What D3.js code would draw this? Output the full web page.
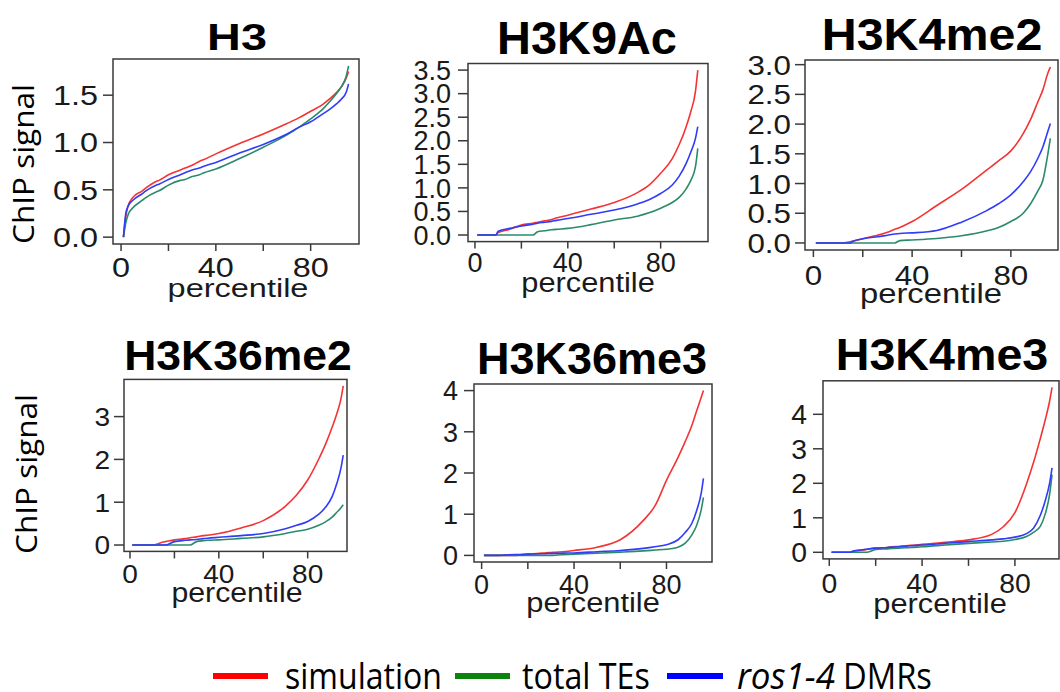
<!DOCTYPE html>
<html lang="en">
<head>
<meta charset="UTF-8" />
<title>ChIP signal by percentile</title>
<script src="https://d3js.org/d3.v7.min.js"></script>
<style>
  body { margin: 0; background: #fff; }
  svg { display: block; }
</style>
</head>
<body>
<svg id="chart" width="1060" height="692"></svg>
<script>
// percentile positions shared by every curve
const percentile = [1, 2, 3, 5, 9, 10, 15, 16, 20, 25, 27, 30, 33, 35, 40, 50, 60, 70, 75, 80, 85, 88, 91, 93, 95, 96];

const marks = ["H3", "H3K9Ac", "H3K4me2", "H3K36me2", "H3K36me3", "H3K4me3"];
const seriesNames = ["simulation", "total TEs", "ros1-4 DMRs"];

// H3
const h3Sim   = [0, 0.22, 0.33, 0.42, 0.49, 0.51, 0.59, 0.60, 0.66, 0.71, 0.73, 0.76, 0.80, 0.82, 0.88, 0.99, 1.09, 1.20, 1.26, 1.33, 1.40, 1.46, 1.53, 1.59, 1.68, 1.75];
const h3Total = [0, 0.15, 0.24, 0.31, 0.39, 0.41, 0.48, 0.49, 0.55, 0.60, 0.61, 0.64, 0.66, 0.68, 0.72, 0.83, 0.95, 1.08, 1.16, 1.25, 1.35, 1.43, 1.52, 1.59, 1.70, 1.81];
const h3Dmr   = [0, 0.25, 0.33, 0.39, 0.46, 0.48, 0.55, 0.56, 0.61, 0.66, 0.68, 0.71, 0.73, 0.75, 0.79, 0.89, 0.98, 1.09, 1.16, 1.22, 1.30, 1.35, 1.41, 1.46, 1.53, 1.62];

// H3K9Ac
const k9acSim   = [0, 0, 0, 0, 0, 0.05, 0.12, 0.14, 0.21, 0.25, 0.27, 0.30, 0.33, 0.36, 0.42, 0.55, 0.69, 0.90, 1.06, 1.31, 1.62, 1.92, 2.30, 2.62, 3.05, 3.50];
const k9acTotal = [0, 0, 0, 0, 0, 0, 0, 0, 0, 0, 0.07, 0.09, 0.11, 0.12, 0.14, 0.22, 0.32, 0.40, 0.47, 0.57, 0.69, 0.80, 0.98, 1.16, 1.45, 1.84];
const k9acDmr   = [0, 0, 0, 0, 0, 0.08, 0.14, 0.15, 0.19, 0.23, 0.25, 0.27, 0.29, 0.31, 0.35, 0.44, 0.53, 0.66, 0.75, 0.88, 1.06, 1.25, 1.52, 1.76, 2.05, 2.30];

// H3K4me2
const k4me2Sim   = [0, 0, 0, 0, 0, 0, 0.02, 0.03, 0.07, 0.12, 0.14, 0.18, 0.23, 0.26, 0.36, 0.63, 0.90, 1.22, 1.38, 1.55, 1.84, 2.08, 2.38, 2.58, 2.86, 2.96];
const k4me2Total = [0, 0, 0, 0, 0, 0, 0, 0, 0, 0, 0, 0, 0, 0.04, 0.05, 0.075, 0.12, 0.20, 0.26, 0.36, 0.50, 0.66, 0.88, 1.06, 1.50, 1.76];
const k4me2Dmr   = [0, 0, 0, 0, 0, 0, 0, 0.03, 0.07, 0.10, 0.11, 0.13, 0.15, 0.16, 0.17, 0.21, 0.35, 0.54, 0.66, 0.81, 1.03, 1.20, 1.43, 1.62, 1.88, 2.01];

// H3K36me2
const k36me2Sim   = [0, 0, 0, 0, 0, 0, 0.07, 0.08, 0.12, 0.15, 0.17, 0.19, 0.22, 0.23, 0.27, 0.40, 0.57, 0.91, 1.17, 1.52, 2.01, 2.35, 2.75, 3.05, 3.42, 3.72];
const k36me2Total = [0, 0, 0, 0, 0, 0, 0, 0, 0, 0, 0, 0.08, 0.10, 0.11, 0.12, 0.155, 0.19, 0.27, 0.32, 0.37, 0.46, 0.54, 0.65, 0.76, 0.87, 0.94];
const k36me2Dmr   = [0, 0, 0, 0, 0, 0, 0, 0, 0.08, 0.11, 0.12, 0.13, 0.15, 0.16, 0.18, 0.22, 0.27, 0.38, 0.46, 0.55, 0.72, 0.88, 1.13, 1.42, 1.80, 2.10];

// H3K36me3
const k36me3Sim   = [0, 0, 0, 0, 0, 0, 0, 0.01, 0.03, 0.05, 0.06, 0.07, 0.08, 0.09, 0.12, 0.20, 0.38, 0.85, 1.20, 1.82, 2.38, 2.75, 3.16, 3.50, 3.83, 4.00];
const k36me3Total = [0, 0, 0, 0, 0, 0, 0, 0, 0, 0, 0, 0, 0.01, 0.015, 0.03, 0.055, 0.08, 0.11, 0.13, 0.15, 0.20, 0.29, 0.50, 0.72, 1.10, 1.41];
const k36me3Dmr   = [0, 0, 0, 0, 0.005, 0.01, 0.02, 0.02, 0.03, 0.04, 0.04, 0.05, 0.05, 0.055, 0.06, 0.09, 0.12, 0.17, 0.21, 0.26, 0.38, 0.55, 0.78, 1.08, 1.50, 1.87];

// H3K4me3
const k4me3Sim   = [0, 0, 0, 0, 0, 0.02, 0.07, 0.08, 0.12, 0.14, 0.16, 0.17, 0.19, 0.20, 0.23, 0.29, 0.36, 0.52, 0.74, 1.15, 1.98, 2.60, 3.31, 3.82, 4.40, 4.78];
const k4me3Total = [0, 0, 0, 0, 0, 0, 0, 0, 0.08, 0.10, 0.11, 0.12, 0.13, 0.14, 0.16, 0.21, 0.26, 0.30, 0.32, 0.37, 0.46, 0.58, 0.76, 1.10, 1.70, 2.25];
const k4me3Dmr   = [0, 0, 0, 0, 0, 0.03, 0.08, 0.09, 0.12, 0.14, 0.15, 0.16, 0.18, 0.19, 0.21, 0.26, 0.31, 0.36, 0.39, 0.44, 0.54, 0.70, 1.08, 1.48, 2.02, 2.45];

// axis ticks
const xTicks = [0, 20, 40, 60, 80];
const xTickLabels = [0, 40, 80];
const yTicksH3 = [0, 0.5, 1, 1.5];
const yTicksK9ac = [0, 0.5, 1, 1.5, 2, 2.5, 3, 3.5];
const yTicksK4me2 = [0, 0.5, 1, 1.5, 2, 2.5, 3];
const yTicksK36me2 = [0, 1, 2, 3];
const yTicksK36me3 = [0, 1, 2, 3, 4];
const yTicksK4me3 = [0, 1, 2, 3, 4];

const panels = [
  { series: [h3Sim, h3Total, h3Dmr], yTicks: yTicksH3, fmt: ".1f" },
  { series: [k9acSim, k9acTotal, k9acDmr], yTicks: yTicksK9ac, fmt: ".1f" },
  { series: [k4me2Sim, k4me2Total, k4me2Dmr], yTicks: yTicksK4me2, fmt: ".1f" },
  { series: [k36me2Sim, k36me2Total, k36me2Dmr], yTicks: yTicksK36me2, fmt: "d" },
  { series: [k36me3Sim, k36me3Total, k36me3Dmr], yTicks: yTicksK36me3, fmt: "d" },
  { series: [k4me3Sim, k4me3Total, k4me3Dmr], yTicks: yTicksK4me3, fmt: "d" }
];

// layout of each panel (box = left, top, right, bottom)
const layout = [
  { box: [113, 59, 359, 244], xlim: [-3.4, 100.4], tf: 27, tsx: 1.2, ygap: 15, xlb: 33,
    title: [237, 50, 36, 1.3], xlab: [238, 297, 26, 1.25] },
  { box: [468, 63.5, 708, 241.6], xlim: [-3.0, 100.4], tf: 27, tsx: 1.0, ygap: 17, xlb: 30,
    title: [587, 54, 46, 1.02], xlab: [588, 292, 28, 1.1] },
  { box: [805, 60, 1058, 250], xlim: [-3.4, 99.1], tf: 28, tsx: 1.12, ygap: 14, xlb: 35,
    title: [932, 50, 44, 1.1], xlab: [931, 303, 28, 1.17] },
  { box: [124, 379.4, 347, 551.4], xlim: [-2.7, 97.7], tf: 26, tsx: 1.08, ygap: 14, xlb: 32,
    title: [238, 370, 42, 1.06], xlab: [237, 602, 28, 1.08] },
  { box: [474, 384, 712, 562], xlim: [-3.3, 99.7], tf: 27, tsx: 1.0, ygap: 16, xlb: 32,
    title: [592, 374, 45, 1.0], xlab: [593, 612, 28, 1.1] },
  { box: [823, 380.8, 1059, 558.9], xlim: [-2.7, 99.0], tf: 27, tsx: 1.05, ygap: 16, xlb: 34,
    title: [942, 370, 44, 1.06], xlab: [940, 613, 28, 1.1] }
];

const curveColors = ["#f43434", "#2a8a6c", "#2f3cf8"];
const legendColors = ["#ff0000", "#0c830c", "#0000ff"];
const ink = "#1a1a1a";
const sans = "'Liberation Sans', Arial, Helvetica, sans-serif";
const calibriLike = "'Open Sans', 'Noto Sans', sans-serif";

const svg = d3.select("#chart");

// squeeze/stretch a text horizontally so it spans `width` pixels
function fitWidth(sel, x, y, width, rot) {
  const natural = sel.node().getComputedTextLength();
  const sx = width / natural;
  sel.attr("transform", `translate(${x},${y})${rot ? " rotate(-90)" : ""} scale(${sx},1)`);
}

panels.forEach((p, k) => {
  const L = layout[k];
  const [bl, bt, br, bb] = L.box;
  const all = p.series.flat();
  const lo = d3.min(all), hi = d3.max(all), pad = (hi - lo) * 0.04;

  const x = d3.scaleLinear().domain(L.xlim).range([bl, br]);
  const y = d3.scaleLinear().domain([lo - pad, hi + pad]).range([bb, bt]);
  const g = svg.append("g").attr("class", "panel");

  const line = d3.line()
    .x((d, i) => x(percentile[i]))
    .y(d => y(d))
    .curve(d3.curveMonotoneX);

  p.series.forEach((vals, s) => {
    g.append("path")
      .attr("d", line(vals))
      .attr("fill", "none")
      .attr("stroke", curveColors[s])
      .attr("stroke-width", 1.6);
  });

  g.append("rect")
    .attr("x", bl).attr("y", bt)
    .attr("width", br - bl).attr("height", bb - bt)
    .attr("fill", "none")
    .attr("stroke", "#3a3a3a")
    .attr("stroke-width", 1.5);

  // y ticks
  const fmt = d3.format(p.fmt);
  g.selectAll(".ytick").data(p.yTicks).join("line")
    .attr("x1", bl - 10).attr("x2", bl)
    .attr("y1", d => y(d)).attr("y2", d => y(d))
    .attr("stroke", "#3a3a3a").attr("stroke-width", 1.5);
  g.selectAll(".ylab").data(p.yTicks).join("text")
    .attr("transform", d => `translate(${bl - L.ygap},${y(d) + L.tf * 0.36}) scale(${L.tsx},1)`)
    .attr("text-anchor", "end")
    .attr("font-family", sans).attr("font-size", L.tf).attr("fill", ink)
    .text(d => fmt(d));

  // x ticks
  g.selectAll(".xtick").data(xTicks).join("line")
    .attr("x1", d => x(d)).attr("x2", d => x(d))
    .attr("y1", bb).attr("y2", bb + 7)
    .attr("stroke", "#3a3a3a").attr("stroke-width", 1.5);
  g.selectAll(".xlab").data(xTickLabels).join("text")
    .attr("transform", d => `translate(${x(d)},${bb + L.xlb}) scale(${L.tsx},1)`)
    .attr("text-anchor", "middle")
    .attr("font-family", sans).attr("font-size", L.tf).attr("fill", ink)
    .text(d => d);

  // axis title and panel title
  g.append("text")
    .attr("transform", `translate(${L.xlab[0]},${L.xlab[1]}) scale(${L.xlab[3]},1)`)
    .attr("text-anchor", "middle")
    .attr("font-family", sans).attr("font-size", L.xlab[2]).attr("fill", ink)
    .text("percentile");
  g.append("text")
    .attr("transform", `translate(${L.title[0]},${L.title[1]}) scale(${L.title[3]},1)`)
    .attr("text-anchor", "middle")
    .attr("font-family", sans).attr("font-weight", "bold")
    .attr("font-size", L.title[2]).attr("fill", "#000")
    .text(marks[k]);
});

// row labels
[[34, 164], [37, 474]].forEach(([cx, cy]) => {
  const t = svg.append("text")
    .attr("text-anchor", "middle")
    .attr("font-family", calibriLike).attr("font-size", 29).attr("fill", "#000")
    .text("ChIP signal");
  fitWidth(t, cx, cy, 160, true);
});

// legend
const legendLines = [[213, 268], [455, 510], [667, 723]];
const legendWords = [
  [{ t: seriesNames[0], x: 285, w: 157 }],
  [{ t: seriesNames[1], x: 522, w: 128 }],
  [{ t: seriesNames[2].split(" ")[0], x: 737, w: 98, it: true },
   { t: seriesNames[2].split(" ")[1], x: 843, w: 89 }]
];
const legendY = 676;
legendLines.forEach(([x1, x2], i) => {
  svg.append("line")
    .attr("x1", x1).attr("x2", x2)
    .attr("y1", legendY).attr("y2", legendY)
    .attr("stroke", legendColors[i]).attr("stroke-width", 6);
  legendWords[i].forEach(w => {
    const t = svg.append("text")
      .attr("font-family", calibriLike).attr("font-size", 36)
      .attr("font-style", w.it ? "italic" : "normal")
      .attr("fill", "#000")
      .text(w.t);
    fitWidth(t, w.x, legendY + 12.5, w.w, false);
  });
});
</script>
</body>
</html>
